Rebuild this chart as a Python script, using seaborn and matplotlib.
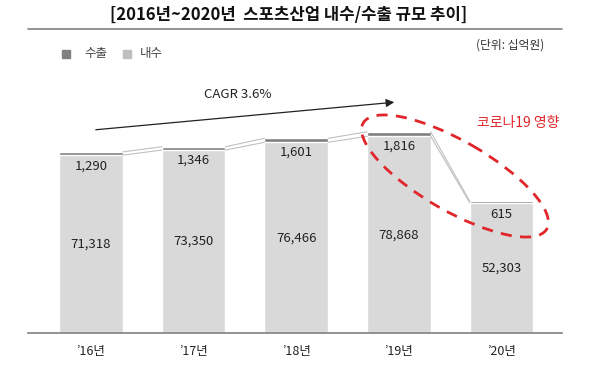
import matplotlib
matplotlib.use("Agg")
import matplotlib.pyplot as plt
from matplotlib.patches import Ellipse, Rectangle
import seaborn as sns
import pandas as pd

years = ["’16년", "’17년", "’18년", "’19년", "’20년"]
domestic = [71318, 73350, 76466, 78868, 52303]
export = [1290, 1346, 1601, 1816, 615]
title = "[2016년~2020년  스포츠산업 내수/수출 규모 추이]"
unit_text = "(단위: 십억원)"
legend_labels = ["수출", "내수"]
cagr_text = "CAGR 3.6%"
covid_text = "코로나19 영향"

sns.set_style("white")
plt.rcParams["font.family"] = ["Noto Sans CJK KR", "DejaVu Sans"]

DARK = "#7f7f7f"
LIGHT = "#d9d9d9"
W, H = 589, 377

df = pd.DataFrame({"year": years, "domestic": domestic, "export": export})
df["total"] = df["domestic"] + df["export"]

fig = plt.figure(figsize=(W / 100, H / 100), dpi=100)
ax = fig.add_axes([28 / W, 44 / H, 534 / W, 273 / H])

bw = 0.62
sns.barplot(data=df, x="year", y="total", color=DARK, saturation=1, width=bw, ax=ax)
sns.barplot(data=df, x="year", y="domestic", color=LIGHT, saturation=1, width=bw, ax=ax)

ax.set_xlim(-0.614, 4.59)
ax.set_ylim(0, 273 * 401)
ax.set_xlabel("")
ax.set_ylabel("")
ax.set_yticks([])
for s in ["top", "left", "right"]:
    ax.spines[s].set_visible(False)
ax.spines["bottom"].set_color("#808080")
ax.spines["bottom"].set_linewidth(1.2)
ax.tick_params(axis="x", length=0, pad=9, labelsize=9, labelcolor="#222222")

# connector lines between bar tops
for i in range(len(years) - 1):
    x0, x1 = i + bw / 2, i + 1 - bw / 2
    for series in ("total", "domestic"):
        ax.plot([x0, x1], [df[series][i], df[series][i + 1]], color="#c0c0c0", lw=0.8)

# value labels
for i in range(len(years)):
    ax.annotate(f"{df['export'][i]:,}", (i, df["total"][i]), xytext=(0, -10),
                textcoords="offset points", ha="center", va="center", fontsize=9.5, color="#222222")
    ax.text(i, df["domestic"][i] / 2, f"{df['domestic'][i]:,}", ha="center", va="center",
            fontsize=9.5, color="#222222")

# overlay in pixel coordinates
ov = fig.add_axes([0, 0, 1, 1])
ov.set_xlim(0, W)
ov.set_ylim(H, 0)
ov.axis("off")
ov.patch.set_alpha(0)

ov.text(289, 15, title, ha="center", va="center", fontsize=12, fontweight="bold", color="#111111")
ov.plot([28, 562], [29, 29], color="#808080", lw=1.2)
ov.text(544, 45, unit_text, ha="right", va="center", fontsize=8.5, color="#333333")

ov.add_patch(Rectangle((62, 50), 8, 8, color="#808080"))
ov.text(84, 54, legend_labels[0], ha="left", va="center", fontsize=9, color="#444444")
ov.add_patch(Rectangle((123, 50), 8, 8, color="#bfbfbf"))
ov.text(140, 54, legend_labels[1], ha="left", va="center", fontsize=9, color="#444444")

ov.annotate("", xy=(397, 102), xytext=(93, 130),
            arrowprops=dict(arrowstyle="-|>", color="#222222", lw=0.9, mutation_scale=12))
ov.text(238, 94, cagr_text, ha="center", va="center", fontsize=9.5, color="#222222")

ov.add_patch(Ellipse((455, 176), 212, 70, angle=30, fill=False, edgecolor="#e0262a",
                     lw=2, linestyle=(0, (4, 3))))
ov.text(518, 123, covid_text, ha="center", va="center", fontsize=10, color="#e0262a")

fig.savefig("out.png", dpi=100)
